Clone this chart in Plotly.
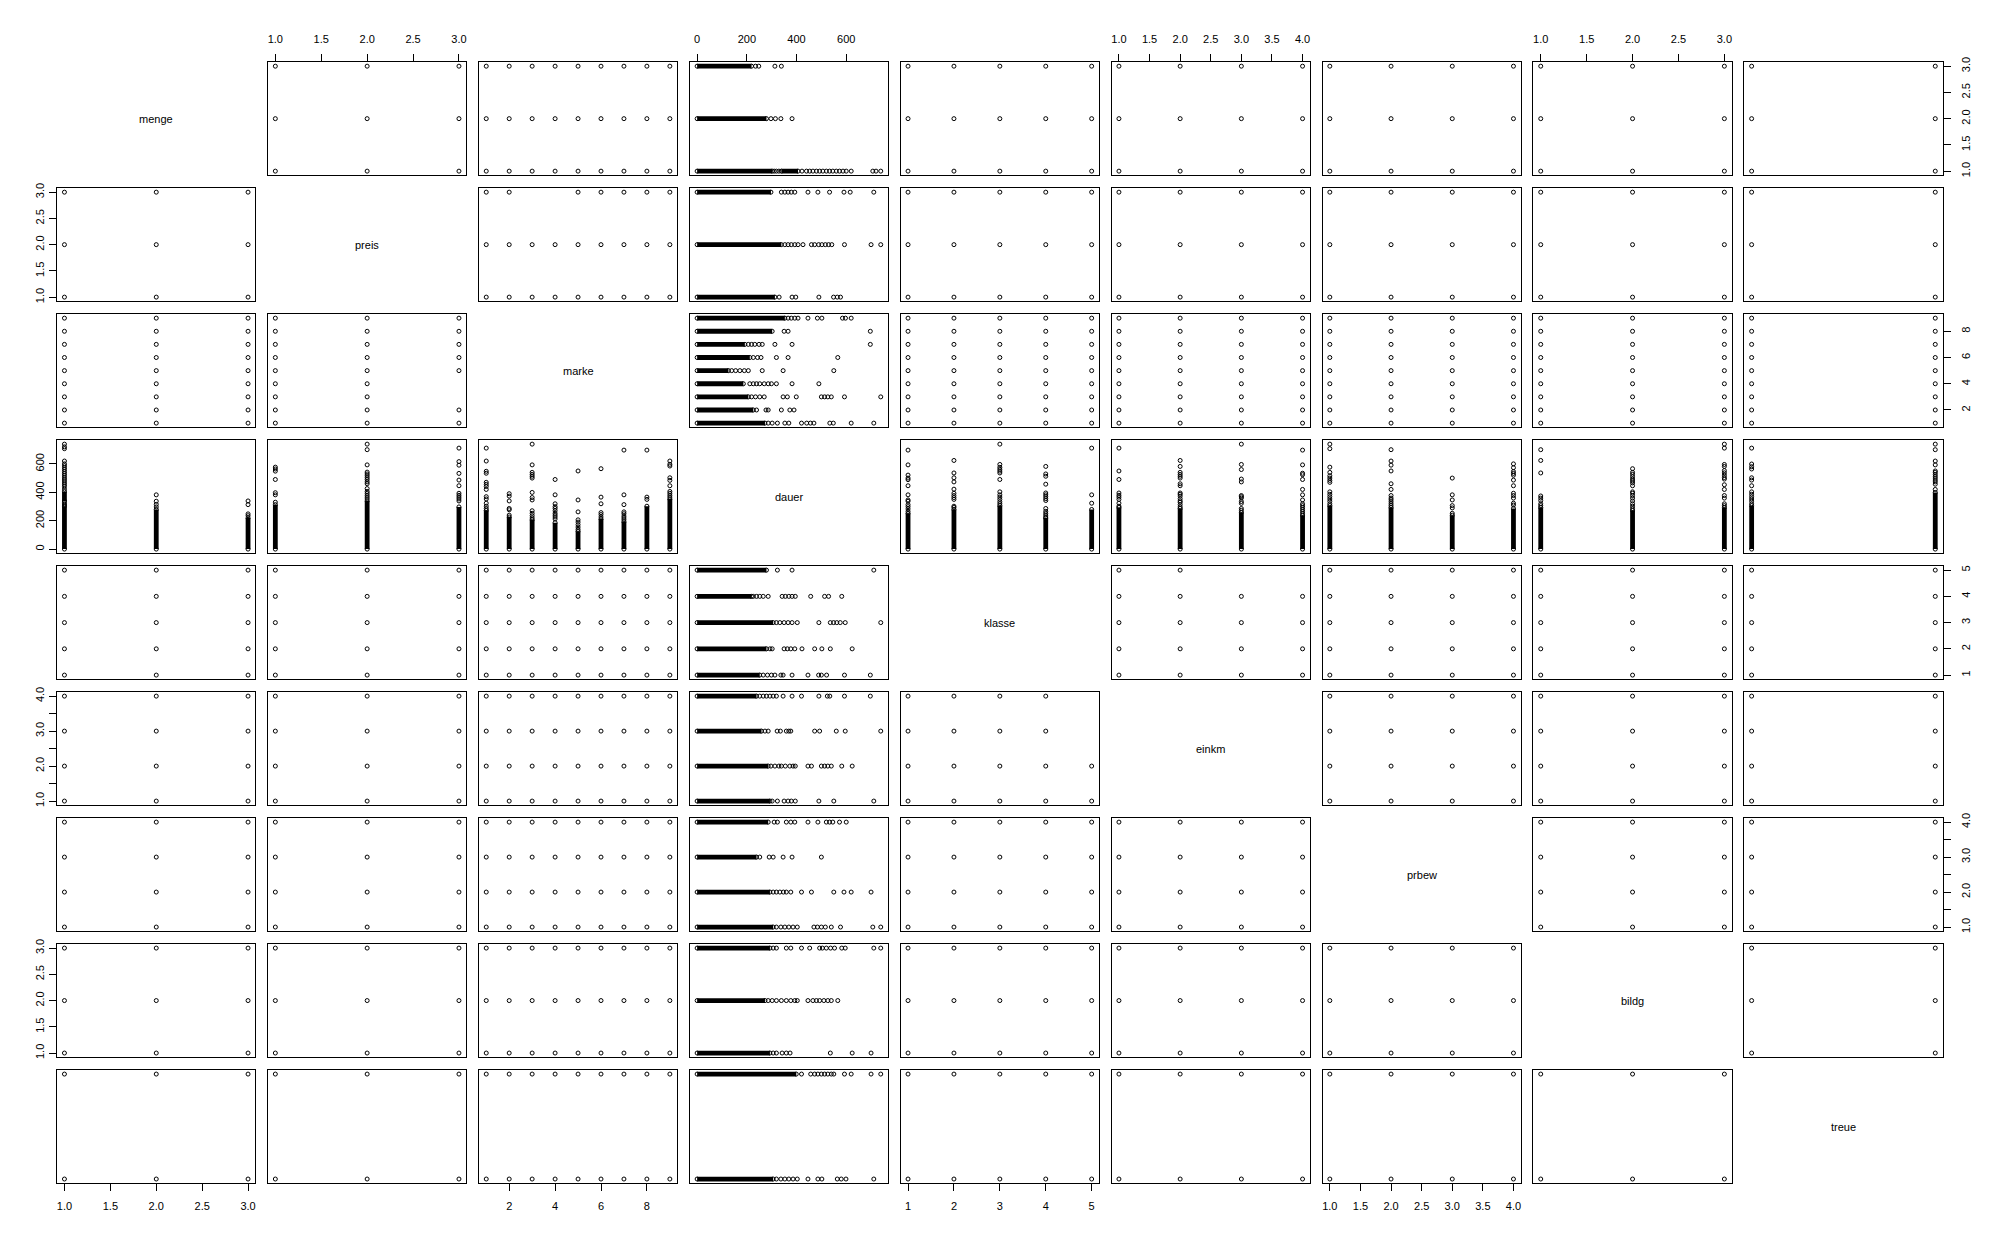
import plotly.graph_objects as go

# ---------------- data ----------------
var_names = ["menge", "preis", "marke", "dauer", "klasse", "einkm", "prbew", "bildg", "treue"]

levels = {
    "menge": [1, 2, 3],
    "preis": [1, 2, 3],
    "marke": [1, 2, 3, 4, 5, 6, 7, 8, 9],
    "klasse": [1, 2, 3, 4, 5],
    "einkm": [1, 2, 3, 4],
    "prbew": [1, 2, 3, 4],
    "bildg": [1, 2, 3],
    "treue": [1, 2],
}
dauer_limits = [0, 739]

# combinations of two coded variables that never occur: (value of first var, value of second var)
missing_pairs = {
    ("preis", "marke"): [(3, 3), (3, 4)],
    ("einkm", "klasse"): [(3, 5), (4, 5)],
}

# dense (overplotted) runs of dauer per level: list of (from, to)
dauer_dense = {
    "menge": {1: [(0, 302), (339, 406)], 2: [(0, 279)], 3: [(0, 219)]},
    "preis": {1: [(0, 313)], 2: [(0, 339)], 3: [(0, 297)]},
    "marke": {1: [(0, 273)], 2: [(0, 226)], 3: [(0, 206)], 4: [(0, 186)], 5: [(0, 126)],
              6: [(0, 212)], 7: [(0, 192)], 8: [(0, 302)], 9: [(0, 353)]},
    "klasse": {1: [(0, 252)], 2: [(0, 279)], 3: [(0, 306)], 4: [(0, 219)], 5: [(0, 279)]},
    "einkm": {1: [(0, 293)], 2: [(0, 286)], 3: [(0, 259)], 4: [(0, 239)]},
    "prbew": {1: [(0, 306)], 2: [(0, 293)], 3: [(0, 239)], 4: [(0, 286)]},
    "bildg": {1: [(0, 293)], 2: [(0, 273)], 3: [(0, 293)]},
    "treue": {1: [(0, 306)], 2: [(0, 399)]},
}

# isolated dauer observations per level
dauer_sparse = {
    "menge": {
        1: [310, 319, 329, 422, 440, 453, 466, 480, 493, 506, 520, 533, 546, 560, 573, 587, 600, 620, 707, 720, 739],
        2: [297, 315, 337, 382],
        3: [235, 248, 313, 339],
    },
    "preis": {
        1: [330, 382, 397, 490, 549, 564, 577],
        2: [353, 366, 379, 393, 406, 426, 460, 473, 489, 502, 516, 529, 542, 593, 700, 739],
        3: [339, 353, 366, 379, 393, 446, 486, 533, 591, 616, 711],
    },
    "marke": {
        1: [286, 302, 323, 353, 369, 420, 441, 456, 470, 534, 548, 620, 711],
        2: [239, 277, 286, 339, 373, 390],
        3: [219, 235, 252, 270, 346, 363, 399, 500, 513, 526, 540, 593, 739],
        4: [212, 226, 239, 252, 270, 286, 299, 319, 382, 490],
        5: [139, 155, 172, 190, 206, 262, 346, 550],
        6: [226, 243, 257, 319, 366, 566],
        7: [206, 219, 232, 249, 262, 313, 382, 697],
        8: [350, 366, 697],
        9: [366, 379, 393, 406, 446, 484, 502, 585, 597, 620],
    },
    "klasse": {
        1: [266, 283, 299, 313, 337, 346, 382, 446, 489, 500, 521, 593, 697],
        2: [293, 302, 350, 363, 377, 393, 422, 473, 502, 536, 624],
        3: [319, 333, 350, 366, 382, 403, 490, 536, 549, 562, 576, 596, 739],
        4: [226, 239, 252, 266, 286, 342, 355, 369, 382, 395, 457, 513, 529, 582],
        5: [323, 382, 711],
    },
    "einkm": {
        1: [302, 323, 350, 366, 379, 395, 490, 550, 711],
        2: [297, 313, 329, 339, 355, 373, 386, 395, 446, 460, 500, 513, 526, 540, 582, 624],
        3: [273, 286, 322, 335, 359, 369, 377, 473, 493, 560, 596, 739],
        4: [252, 266, 279, 293, 306, 319, 346, 382, 420, 490, 524, 534, 593, 697],
    },
    "prbew": {
        1: [319, 337, 353, 369, 386, 403, 470, 484, 500, 516, 540, 577, 707, 739],
        2: [306, 319, 333, 347, 359, 377, 420, 460, 550, 591, 620, 700],
        3: [252, 290, 306, 346, 382, 500],
        4: [310, 323, 359, 377, 393, 446, 486, 520, 533, 546, 573, 600],
    },
    "bildg": {
        1: [306, 319, 342, 359, 374, 536, 624, 700],
        2: [286, 302, 319, 339, 359, 377, 393, 403, 446, 466, 480, 493, 510, 526, 540, 566],
        3: [306, 319, 359, 377, 420, 453, 493, 504, 520, 537, 553, 582, 596, 711, 739],
    },
    "treue": {
        1: [319, 337, 353, 369, 386, 403, 446, 486, 502, 564, 580, 599, 711],
        2: [420, 457, 473, 486, 500, 513, 526, 540, 550, 593, 620, 700, 739],
    },
}

# axis ticks (values, labels); vertical axes drop labels that would overlap
tick_vals = {
    "menge": [1.0, 1.5, 2.0, 2.5, 3.0],
    "preis": [1.0, 1.5, 2.0, 2.5, 3.0],
    "marke": [2, 4, 6, 8],
    "dauer": [0, 200, 400, 600],
    "klasse": [1, 2, 3, 4, 5],
    "einkm": [1.0, 1.5, 2.0, 2.5, 3.0, 3.5, 4.0],
    "prbew": [1.0, 1.5, 2.0, 2.5, 3.0, 3.5, 4.0],
    "bildg": [1.0, 1.5, 2.0, 2.5, 3.0],
    "treue": [1.0, 1.2, 1.4, 1.6, 1.8, 2.0],
}
tick_text_h = {
    "menge": ["1.0", "1.5", "2.0", "2.5", "3.0"],
    "preis": ["1.0", "1.5", "2.0", "2.5", "3.0"],
    "marke": ["2", "4", "6", "8"],
    "dauer": ["0", "200", "400", "600"],
    "klasse": ["1", "2", "3", "4", "5"],
    "einkm": ["1.0", "1.5", "2.0", "2.5", "3.0", "3.5", "4.0"],
    "prbew": ["1.0", "1.5", "2.0", "2.5", "3.0", "3.5", "4.0"],
    "bildg": ["1.0", "1.5", "2.0", "2.5", "3.0"],
    "treue": ["1.0", "1.2", "1.4", "1.6", "1.8", "2.0"],
}
tick_text_v = {
    "menge": ["1.0", "1.5", "2.0", "2.5", "3.0"],
    "preis": ["1.0", "1.5", "2.0", "2.5", "3.0"],
    "marke": ["2", "4", "6", "8"],
    "dauer": ["0", "200", "400", "600"],
    "klasse": ["1", "2", "3", "4", "5"],
    "einkm": ["1.0", "", "2.0", "", "3.0", "", "4.0"],
    "prbew": ["1.0", "", "2.0", "", "3.0", "", "4.0"],
    "bildg": ["1.0", "1.5", "2.0", "2.5", "3.0"],
    "treue": ["1.0", "", "1.4", "", "1.8", ""],
}

# ---------------- layout geometry (pixels) ----------------
W, H = 2000, 1243
N = len(var_names)
PX0, PSTEP, PW = 57.1, 210.9, 198.3
PY0, PYSTEP, PH = 57.3, 126.7, 114.0
FONT = "Liberation Sans, Arial, Helvetica, sans-serif"
MSIZE = 4
BAR_W = 4.8


def var_range(v):
    if v == "dauer":
        lo, hi = dauer_limits
    else:
        lo, hi = min(levels[v]), max(levels[v])
    d = hi - lo
    return [lo - 0.04 * d, hi + 0.04 * d]


def combos(vx, vy):
    """points (x, y) for a panel with x = vx, y = vy (both coded)."""
    miss = set()
    for (a, b), lst in missing_pairs.items():
        for (va, vb) in lst:
            if (a, b) == (vx, vy):
                miss.add((va, vb))
            elif (a, b) == (vy, vx):
                miss.add((vb, va))
    xs, ys = [], []
    for xv in levels[vx]:
        for yv in levels[vy]:
            if (xv, yv) not in miss:
                xs.append(xv)
                ys.append(yv)
    return xs, ys


fig = go.Figure()
layout = dict(
    width=W, height=H, margin=dict(l=0, r=0, t=0, b=0),
    paper_bgcolor="white", plot_bgcolor="white", showlegend=False,
    font=dict(family=FONT, size=11, color="black"),
)
annotations = []

marker = dict(symbol="circle-open", size=MSIZE, color="black", line=dict(color="black", width=1))

for r, vy in enumerate(var_names):
    for c, vx in enumerate(var_names):
        k = r * N + c + 1
        xa = "x" if k == 1 else f"x{k}"
        ya = "y" if k == 1 else f"y{k}"
        x0 = PX0 + c * PSTEP
        y0 = PY0 + r * PYSTEP
        xdom = [x0 / W, (x0 + PW) / W]
        ydom = [1 - (y0 + PH) / H, 1 - y0 / H]

        xaxis = dict(domain=xdom, range=var_range(vx), anchor=ya, showgrid=False, zeroline=False,
                     showline=True, mirror=True, linecolor="black", linewidth=1,
                     ticks="", showticklabels=False, fixedrange=True)
        yaxis = dict(domain=ydom, range=var_range(vy), anchor=xa, showgrid=False, zeroline=False,
                     showline=True, mirror=True, linecolor="black", linewidth=1,
                     ticks="", showticklabels=False, fixedrange=True)

        tick_common = dict(ticks="outside", ticklen=7, tickwidth=1, tickcolor="black",
                           showticklabels=True, tickfont=dict(family=FONT, size=11, color="black"),
                           tickmode="array")
        if r == 0 and c % 2 == 1:
            xaxis.update(tick_common, side="top", tickvals=tick_vals[vx], ticktext=tick_text_h[vx],
                         ticklabelstandoff=7)
        if r == N - 1 and c % 2 == 0:
            xaxis.update(tick_common, side="bottom", tickvals=tick_vals[vx], ticktext=tick_text_h[vx],
                         ticklabelstandoff=6)
        if c == 0 and r % 2 == 1:
            yaxis.update(tick_common, side="left", tickvals=tick_vals[vy], ticktext=tick_text_v[vy],
                         tickangle=-90, ticklabelstandoff=1)
        if c == N - 1 and r % 2 == 0:
            yaxis.update(tick_common, side="right", tickvals=tick_vals[vy], ticktext=tick_text_v[vy],
                         tickangle=-90, ticklabelstandoff=6)

        layout["xaxis" if k == 1 else f"xaxis{k}"] = xaxis
        layout["yaxis" if k == 1 else f"yaxis{k}"] = yaxis

        if r == c:
            annotations.append(dict(
                text=vx, xref="paper", yref="paper",
                x=(x0 + PW / 2) / W, y=1 - (y0 + PH / 2) / H,
                showarrow=False, xanchor="center", yanchor="middle",
                font=dict(family=FONT, size=11, color="black")))
            continue

        if vx != "dauer" and vy != "dauer":
            xs, ys = combos(vx, vy)
            fig.add_trace(go.Scatter(x=xs, y=ys, mode="markers", marker=marker, xaxis=xa, yaxis=ya,
                                     cliponaxis=False, hoverinfo="skip"))
            continue

        # panels involving dauer
        other = vy if vx == "dauer" else vx
        lx, ly, px, py = [], [], [], []
        for lev in levels[other]:
            segs = dauer_dense[other][lev]
            vals = []
            for (a, b) in segs:
                vals += [a, b]
            vals += dauer_sparse[other][lev]
            if vx == "dauer":
                for (a, b) in segs:
                    lx += [a, b, None]
                    ly += [lev, lev, None]
                px += vals
                py += [lev] * len(vals)
            else:
                for (a, b) in segs:
                    ly += [a, b, None]
                    lx += [lev, lev, None]
                py += vals
                px += [lev] * len(vals)
        fig.add_trace(go.Scatter(x=lx, y=ly, mode="lines", line=dict(color="black", width=BAR_W),
                                 xaxis=xa, yaxis=ya, cliponaxis=False, hoverinfo="skip"))
        fig.add_trace(go.Scatter(x=px, y=py, mode="markers", marker=marker, xaxis=xa, yaxis=ya,
                                 cliponaxis=False, hoverinfo="skip"))

layout["annotations"] = annotations
fig.update_layout(**layout)
fig.write_html("out.html")
